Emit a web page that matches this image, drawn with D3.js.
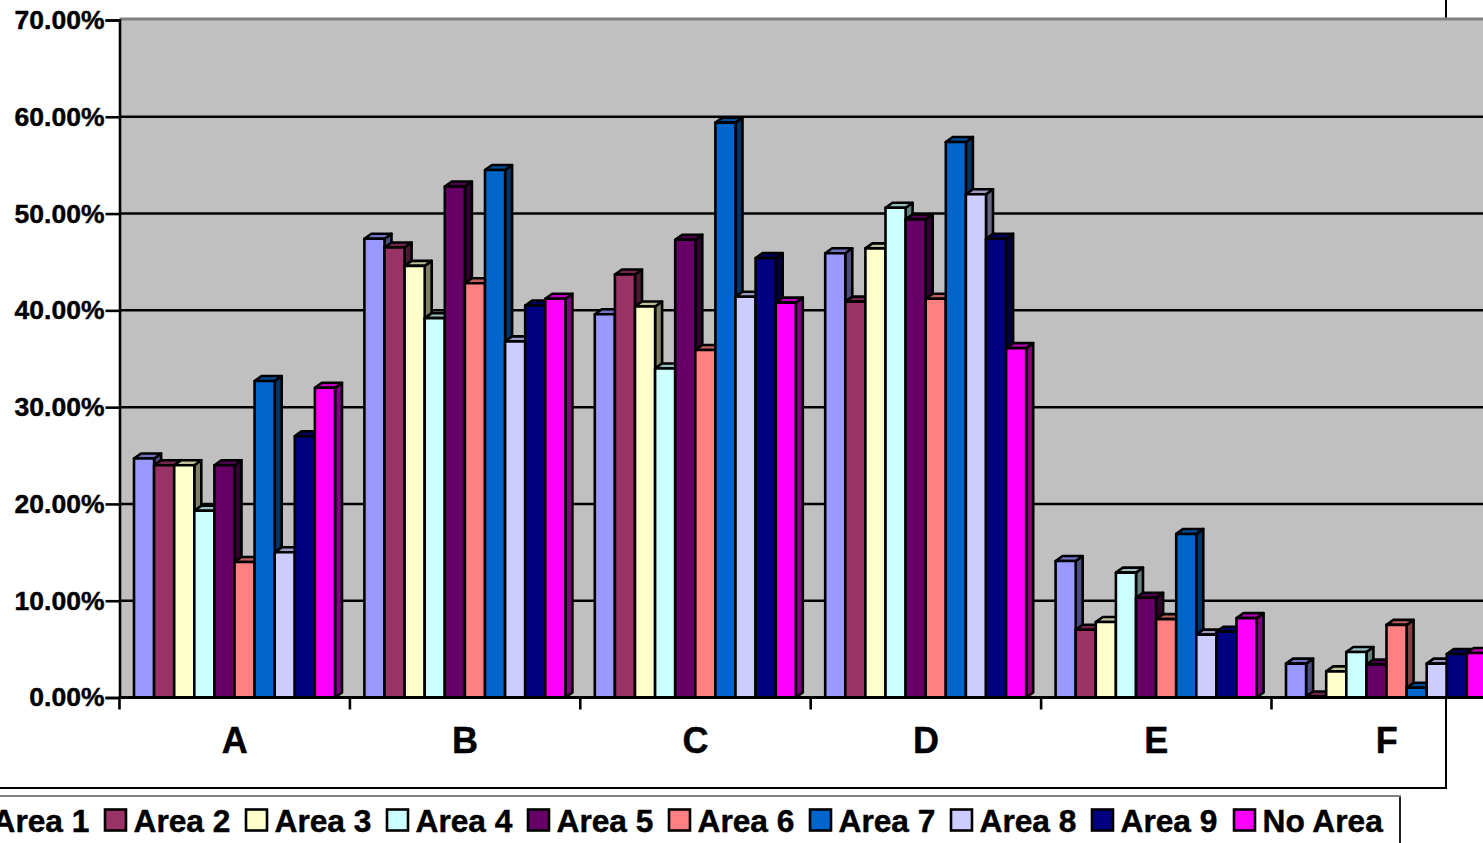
<!DOCTYPE html>
<html><head><meta charset="utf-8">
<script src="https://cdn.jsdelivr.net/npm/d3@7"></script>
<style>
html,body{margin:0;padding:0;background:#fff;overflow:hidden}
svg{display:block}
text{font-family:"Liberation Sans",Arial,sans-serif;font-weight:bold;fill:#000;stroke:#000;stroke-width:0.45px}
</style></head><body>
<svg id="c" width="1483" height="843"></svg>
<script>
const categories = ["A","B","C","D","E","F"];
const seriesNames = ["Area 1","Area 2","Area 3","Area 4","Area 5","Area 6","Area 7","Area 8","Area 9","No Area"];
const seriesColors = ["#9999FF","#993366","#FFFFCC","#CCFFFF","#660066","#FF8080","#0066CC","#CCCCFF","#000080","#FF00FF"];
const area1 = [24.7,47.4,39.6,45.9,14.1,3.5];
const area2 = [24.0,46.5,43.7,40.9,7.0,0.1];
const area3 = [24.0,44.6,40.4,46.4,7.8,2.7];
const area4 = [19.3,39.2,34.0,50.6,12.9,4.7];
const area5 = [24.0,52.8,47.3,49.4,10.3,3.4];
const area6 = [14.0,42.8,35.9,41.2,8.1,7.5];
const area7 = [32.7,54.5,59.4,57.4,16.9,1.0];
const area8 = [15.0,36.8,41.4,52.0,6.5,3.5];
const area9 = [27.0,40.5,45.4,47.4,6.8,4.5];
const noArea = [32.0,41.2,40.8,36.1,8.2,4.6];
const seriesValues = [area1,area2,area3,area4,area5,area6,area7,area8,area9,noArea];
const yTicks = [0,10,20,30,40,50,60,70];

const svg = d3.select("#c");
const W = 1483, H = 843;
const plotLeft = 119.5, plotBottom = 697.5, plotTop = 20, step = 230.4;
const depthX = 7, depthY = 5;
const y = d3.scaleLinear().domain([0,70]).range([plotBottom,plotTop]);
const x0 = d3.scaleBand().domain(categories).range([plotLeft,plotLeft+step*categories.length]);
const x1 = d3.scaleBand().domain(seriesNames).range([14.5,14.5+20.1*seriesNames.length]);

// chart area border (behind the plot)
svg.append("path").attr("d",`M1446,0V788H0`).attr("fill","none").attr("stroke","#000").attr("stroke-width",2);
// legend box
svg.append("path").attr("d",`M1400,796V843`).attr("fill","none").attr("stroke","#222").attr("stroke-width",2);
svg.append("path").attr("d",`M0,796H1401`).attr("fill","none").attr("stroke","#808080").attr("stroke-width",2);

// wall
svg.append("rect").attr("x",plotLeft).attr("y",plotTop-1).attr("width",W-plotLeft).attr("height",plotBottom-plotTop+1).attr("fill","#C0C0C0");
svg.append("line").attr("x1",plotLeft).attr("x2",W).attr("y1",plotTop-1).attr("y2",plotTop-1).attr("stroke","#808080").attr("stroke-width",3);

// gridlines
svg.append("g").selectAll("line").data(yTicks.filter(d=>d>0 && d<70)).join("line")
  .attr("x1",plotLeft).attr("x2",W).attr("y1",d=>y(d)).attr("y2",d=>y(d))
  .attr("stroke","#000").attr("stroke-width",2.5);

// bars
const barsG = svg.append("g");
categories.forEach((cat,ci)=>{
  seriesNames.forEach((name,si)=>{
    const v = seriesValues[si][ci];
    const bx = x0(cat)+x1(name), bw = x1.bandwidth(), by = y(v), col = d3.color(seriesColors[si]);
    const g = barsG.append("g").attr("stroke","#000").attr("stroke-width",2.6).attr("stroke-linejoin","round");
    g.append("path").attr("fill",d3.rgb(col.r*0.5,col.g*0.5,col.b*0.5).formatHex())
      .attr("d",`M${bx+bw},${by}L${bx+bw+depthX},${by-depthY}V${plotBottom-depthY}L${bx+bw},${plotBottom}Z`);
    g.append("path").attr("fill",d3.rgb(col.r*0.75,col.g*0.75,col.b*0.75).formatHex())
      .attr("d",`M${bx},${by}L${bx+depthX},${by-depthY}H${bx+bw+depthX}L${bx+bw},${by}Z`);
    g.append("rect").attr("x",bx).attr("y",by).attr("width",bw).attr("height",plotBottom-by).attr("fill",col.formatHex());
  });
});

// axes
const yAxis = svg.append("g").attr("transform",`translate(${plotLeft},0)`)
  .call(d3.axisLeft(y).tickValues(yTicks).tickSize(14).tickPadding(1).tickFormat(d=>d3.format(".2f")(d)+"%"));
yAxis.selectAll("line,path").attr("stroke","#000").attr("stroke-width",2.6);
yAxis.selectAll("text").attr("font-size",26.5).attr("font-family",null);
const xAxis = svg.append("g").attr("transform",`translate(0,${plotBottom})`)
  .call(d3.axisBottom(x0).tickSize(0).tickPadding(0));
xAxis.select("path").attr("d",`M${plotLeft},0H${W}`).attr("stroke","#000").attr("stroke-width",3);
xAxis.selectAll("text").attr("font-size",36).attr("font-family",null).attr("dy",null).attr("y",55);
xAxis.selectAll("line").remove();
xAxis.selectAll(".cat-tick").data(categories).join("line").attr("class","cat-tick")
  .attr("x1",d=>x0(d)).attr("x2",d=>x0(d)).attr("y1",0).attr("y2",12)
  .attr("stroke","#000").attr("stroke-width",2.6);

// legend
const legendX = d3.scalePoint().domain(seriesNames).range([-36,-36+141*9]);
const lg = svg.append("g").selectAll("g").data(seriesNames).join("g")
  .attr("transform",d=>`translate(${legendX(d)+(d==="No Area"?1:0)},0)`);
lg.append("rect").attr("x",0).attr("y",809.5).attr("width",21).attr("height",21)
  .attr("fill",(d,i)=>seriesColors[i]).attr("stroke","#000").attr("stroke-width",2.6);
lg.append("text").attr("x",28.5).attr("y",832).attr("font-size",31.7).text(d=>d);
</script>
</body></html>
